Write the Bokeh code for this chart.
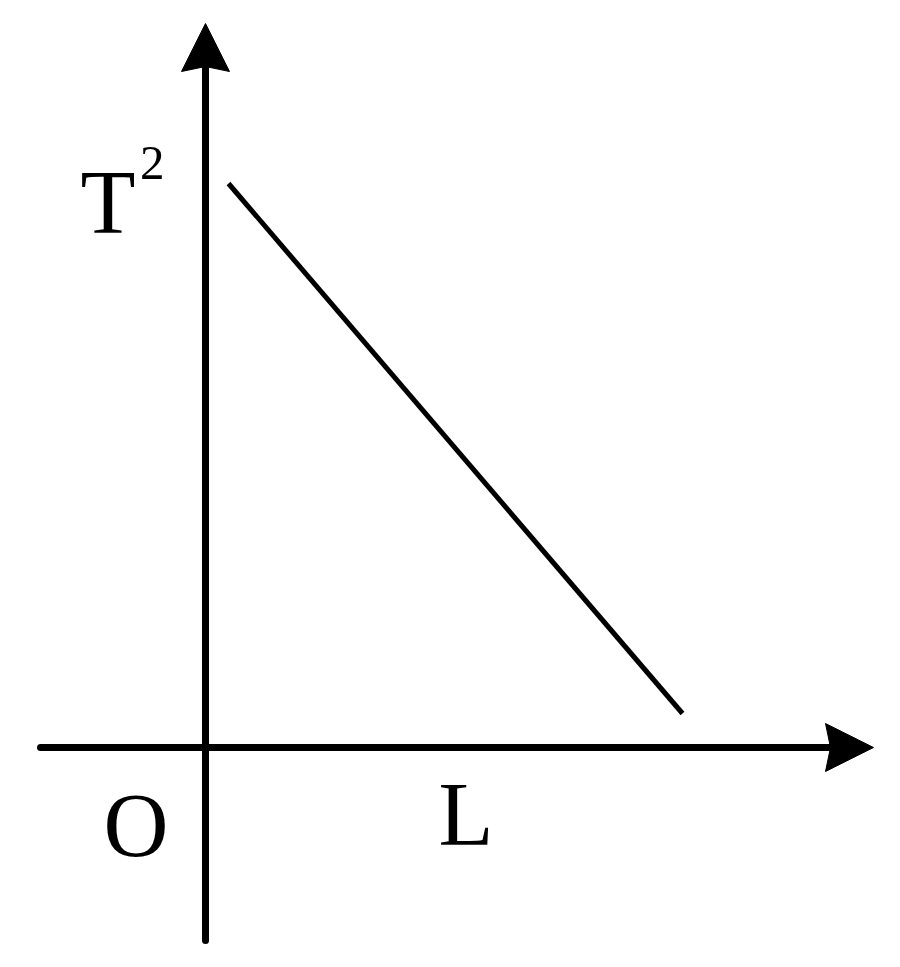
from bokeh.plotting import figure
from bokeh.models import Range1d
from bokeh.core.properties import value
from bokeh.embed import file_html
from bokeh.resources import INLINE

# ---- data (1 unit = 100 screen px, origin O) ----
line_L = [0.23, 4.77]          # L values of the straight line
line_T2 = [5.64, 0.34]         # corresponding T^2 values

x_axis_start, x_axis_end = -1.65, 6.68   # horizontal axis extent (arrow tip at end)
y_axis_start, y_axis_end = -1.93, 7.24   # vertical axis extent (arrow tip at end)
head_len, head_half, head_notch = 0.48, 0.24, 0.05

label_text = ["O", "L", "T"]
label_x = [-1.02, 2.33, -1.25]
label_y = [-0.78, -0.67, 5.45]
sup_text = ["2"]
sup_x = [-0.655]
sup_y = [5.85]

FONT = value("Liberation Serif")

p = figure(width=884, height=951, output_backend="svg", toolbar_location=None,
           x_range=Range1d(-2.05, 6.79), y_range=Range1d(-2.04, 7.47),
           min_border=0, min_border_left=0, min_border_right=0,
           min_border_top=0, min_border_bottom=0)
p.axis.visible = False
p.grid.visible = False
p.outline_line_color = None
p.background_fill_color = "white"
p.border_fill_color = "white"

# axes lines (stop at arrow head base)
p.line([x_axis_start, x_axis_end - head_len + head_notch], [0, 0],
       line_color="black", line_width=7, line_cap="round")
p.line([0, 0], [y_axis_start, y_axis_end - head_len + head_notch],
       line_color="black", line_width=7, line_cap="round")

# arrow heads (tip, corner, notch, corner)
hx = [x_axis_end, x_axis_end - head_len, x_axis_end - head_len + head_notch, x_axis_end - head_len]
hy = [0, head_half, 0, -head_half]
vx = [0, head_half, 0, -head_half]
vy = [y_axis_end, y_axis_end - head_len, y_axis_end - head_len + head_notch, y_axis_end - head_len]
p.patches([hx, vx], [hy, vy], fill_color="black", line_color="black", line_width=1)

# the straight line
p.line(line_L, line_T2, line_color="black", line_width=5)

# labels
p.text(label_x, label_y, text=label_text, text_font=FONT, text_font_size="90px",
       text_color="black", text_baseline="alphabetic", text_align="left")
p.text(sup_x, sup_y, text=sup_text, text_font=FONT, text_font_size="49px",
       text_color="black", text_baseline="alphabetic", text_align="left")

open("out.html", "w").write(file_html(p, INLINE))
